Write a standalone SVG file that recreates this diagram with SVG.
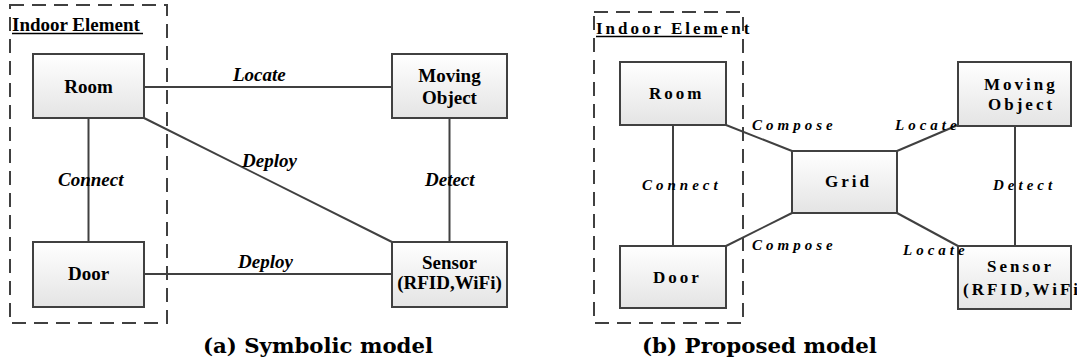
<svg xmlns="http://www.w3.org/2000/svg" width="1077" height="362" viewBox="0 0 1077 362">
<defs>
<linearGradient id="boxfill" x1="0" y1="0" x2="0" y2="1">
<stop offset="0" stop-color="#ffffff"/>
<stop offset="1" stop-color="#e4e4e4"/>
</linearGradient>
</defs>
<style>
.box{fill:url(#boxfill);stroke:#404040;stroke-width:2}
.group{fill:none;stroke:#404040;stroke-width:2;stroke-dasharray:14 8}
.edge{stroke:#404040;stroke-width:2;fill:none}
.ul{stroke:#000;stroke-width:1.5}
.na{font-family:"Liberation Serif",serif;font-weight:bold;font-size:19px;fill:#000;text-anchor:middle}
.ea{font-family:"Liberation Serif",serif;font-weight:bold;font-style:italic;font-size:19px;fill:#000}
.nb{font-family:"Liberation Serif",serif;font-weight:bold;font-size:17px;letter-spacing:3px;fill:#000}
.eb{font-family:"Liberation Serif",serif;font-weight:bold;font-style:italic;font-size:15px;letter-spacing:4px;fill:#000}
.cap{font-family:"DejaVu Serif",serif;font-weight:bold;font-size:21px;fill:#000}
</style>

<!-- Panel (a) -->
<g id="a-indoor">
<rect class="group" x="10" y="5" width="157" height="318"/>
<text class="ea" style="font-style:normal" x="12" y="31">Indoor Element</text>
<line class="ul" x1="12" y1="33.5" x2="143" y2="33.5"/>
</g>
<g id="a-room">
<rect class="box" x="33" y="54" width="111" height="64"/>
<text class="na" x="88.5" y="93">Room</text>
</g>
<g id="a-door">
<rect class="box" x="33" y="242" width="111" height="65"/>
<text class="na" x="88.5" y="280">Door</text>
</g>
<g id="a-moving">
<rect class="box" x="392" y="54" width="115" height="64"/>
<text class="na" x="449.5" y="82">Moving</text>
<text class="na" x="449.5" y="104">Object</text>
</g>
<g id="a-sensor">
<rect class="box" x="392" y="242" width="115" height="65"/>
<text class="na" x="449.5" y="269">Sensor</text>
<text class="na" x="449.5" y="289">(RFID,WiFi)</text>
</g>
<g id="a-connectors">
<line class="edge" x1="88.5" y1="118" x2="88.5" y2="242"/>
<line class="edge" x1="144" y1="87" x2="392" y2="87"/>
<line class="edge" x1="144" y1="118" x2="392" y2="242"/>
<line class="edge" x1="144" y1="274" x2="392" y2="274"/>
<line class="edge" x1="449.5" y1="118" x2="449.5" y2="242"/>
<text class="ea" x="233" y="81">Locate</text>
<text class="ea" x="242" y="167">Deploy</text>
<text class="ea" x="58" y="186">Connect</text>
<text class="ea" x="425" y="186">Detect</text>
<text class="ea" x="238" y="268">Deploy</text>
</g>
<text class="cap" x="203" y="353" textLength="230" lengthAdjust="spacingAndGlyphs">(a) Symbolic model</text>

<!-- Panel (b) -->
<g id="b-indoor">
<rect class="group" x="594" y="12" width="149" height="311"/>
<text class="nb" x="596" y="34">Indoor Element</text>
<line class="ul" x1="596" y1="36.5" x2="722" y2="36.5"/>
</g>
<g id="b-room">
<rect class="box" x="620" y="62" width="106" height="63"/>
<text class="nb" x="649" y="99">Room</text>
</g>
<g id="b-door">
<rect class="box" x="620" y="246" width="106" height="62"/>
<text class="nb" x="653" y="283">Door</text>
</g>
<g id="b-grid">
<rect class="box" x="792" y="151" width="105" height="62"/>
<text class="nb" x="825" y="187">Grid</text>
</g>
<g id="b-moving">
<rect class="box" x="958" y="62" width="113" height="64"/>
<text class="nb" x="984" y="90">Moving</text>
<text class="nb" x="988" y="110">Object</text>
</g>
<g id="b-sensor">
<rect class="box" x="958" y="246" width="113" height="63"/>
<text class="nb" x="987" y="272">Sensor</text>
<text class="nb" x="963" y="295">(RFID,WiFi)</text>
</g>
<g id="b-connectors">
<line class="edge" x1="673" y1="125" x2="673" y2="246"/>
<line class="edge" x1="726" y1="125" x2="792" y2="151"/>
<line class="edge" x1="726" y1="246" x2="792" y2="213"/>
<line class="edge" x1="897" y1="151" x2="958" y2="125"/>
<line class="edge" x1="897" y1="213" x2="958" y2="246"/>
<line class="edge" x1="1015" y1="126" x2="1015" y2="246"/>
<text class="eb" x="752" y="130">Compose</text>
<text class="eb" x="752" y="250">Compose</text>
<text class="eb" x="895" y="130">Locate</text>
<text class="eb" x="903" y="255">Locate</text>
<text class="eb" x="642" y="190">Connect</text>
<text class="eb" x="993" y="190">Detect</text>
</g>
<text class="cap" x="642" y="353" textLength="235" lengthAdjust="spacingAndGlyphs">(b) Proposed model</text>
</svg>
